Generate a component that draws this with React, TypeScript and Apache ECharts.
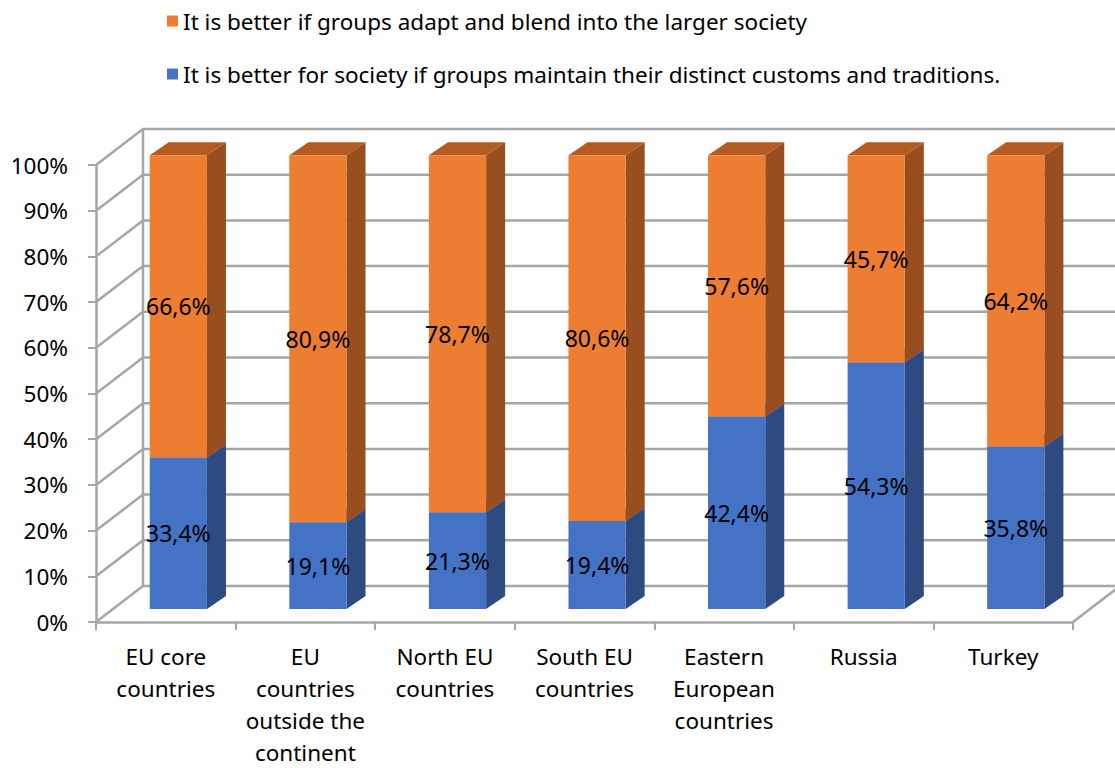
import React, { useEffect, useRef } from "react";
import * as echarts from "echarts";

const categories = [
  "EU core\ncountries",
  "EU\ncountries\noutside the\ncontinent",
  "North EU\ncountries",
  "South EU\ncountries",
  "Eastern\nEuropean\ncountries",
  "Russia",
  "Turkey",
];
const maintainValues = [33.4, 19.1, 21.3, 19.4, 42.4, 54.3, 35.8];
const adaptValues = [66.6, 80.9, 78.7, 80.6, 57.6, 45.7, 64.2];
const gridValues = [0, 10, 20, 30, 40, 50, 60, 70, 80, 90, 100];

const adaptName = "It is better if groups adapt and blend into the larger society";
const maintainName = "It is better for society if groups maintain their distinct customs and traditions.";

const FONT = "'Noto Sans', 'Open Sans', sans-serif";
const WALL_DX = 47;
const WALL_DY = -36;
const BAR_DX = 19;
const BAR_DY = -13;
const BAR_SCALE = 0.993;
const GRID_COLOR = "#a6a6a6";

const fmt = (v: number) => v.toFixed(1).replace(".", ",") + "%";

function makeBarRender(front: string, side: string, top: string) {
  return (params: any, api: any) => {
    const c = api.value(0);
    const base = api.value(1);
    const val = api.value(2);
    const p0 = api.coord([c, 0]);
    const pB = api.coord([c, base]);
    const pT = api.coord([c, base + val]);
    const cw = api.size([1, 0])[0];
    const left = pB[0] - 0.115 * cw;
    const right = left + 0.41 * cw;
    const y0 = p0[1] + BAR_DY;
    const yB = y0 - (p0[1] - pB[1]) * BAR_SCALE;
    const yT = y0 - (p0[1] - pT[1]) * BAR_SCALE;
    return {
      type: "group",
      children: [
        {
          type: "polygon",
          shape: {
            points: [
              [right, yT],
              [right + BAR_DX, yT + BAR_DY],
              [right + BAR_DX, yB + BAR_DY],
              [right, yB],
            ],
          },
          style: { fill: side },
        },
        {
          type: "polygon",
          shape: {
            points: [
              [left, yT],
              [left + BAR_DX, yT + BAR_DY],
              [right + BAR_DX, yT + BAR_DY],
              [right, yT],
            ],
          },
          style: { fill: top },
        },
        {
          type: "rect",
          shape: { x: left, y: yT, width: right - left, height: yB - yT },
          style: { fill: front },
        },
        {
          type: "text",
          x: (left + right) / 2,
          y: (yT + yB) / 2,
          style: {
            text: fmt(val),
            fill: "#000",
            font: `23px ${FONT}`,
            align: "center",
            verticalAlign: "middle",
          },
        },
      ],
    };
  };
}

export default function App() {
  const ref = useRef<HTMLDivElement>(null);
  useEffect(() => {
    if (!ref.current) return;
    const chart = echarts.init(ref.current, null, { renderer: "svg" });
    const blueData = maintainValues.map((v, i) => [i, 0, v]);
    const orangeData = adaptValues.map((v, i) => [i, maintainValues[i], v]);
    chart.setOption({
      animation: false,
      backgroundColor: "#fff",
      textStyle: { fontFamily: FONT },
      legend: {
        orient: "vertical",
        left: 162,
        top: 4,
        itemWidth: 11,
        itemHeight: 11,
        itemGap: 29,
        icon: "rect",
        data: [adaptName, maintainName],
        textStyle: { fontSize: 22.5, color: "#000", lineHeight: 24, fontFamily: FONT },
      },
      grid: { left: 96, right: 42, top: 165, bottom: 143 },
      xAxis: {
        type: "category",
        data: categories,
        boundaryGap: true,
        axisLine: { show: true, lineStyle: { color: GRID_COLOR, width: 2.5 } },
        axisTick: { show: true, length: 8, lineStyle: { color: GRID_COLOR, width: 2 } },
        axisLabel: {
          interval: 0,
          fontSize: 22.5,
          lineHeight: 32,
          color: "#000",
          margin: 18,
          fontFamily: FONT,
        },
      },
      yAxis: {
        type: "value",
        min: 0,
        max: 100,
        interval: 10,
        splitLine: { show: false },
        axisLine: { show: true, lineStyle: { color: GRID_COLOR, width: 2.5 } },
        axisTick: { show: true, length: 8, lineStyle: { color: GRID_COLOR, width: 2 } },
        axisLabel: {
          formatter: "{value}%",
          fontSize: 22.5,
          color: "#000",
          margin: 28,
          fontFamily: FONT,
        },
      },
      series: [
        {
          type: "custom",
          name: "walls",
          silent: true,
          data: gridValues.map((v) => [0, v]),
          encode: { x: 0, y: 1 },
          z: 1,
          renderItem: (params: any, api: any) => {
            const v = api.value(1);
            const cs = params.coordSys;
            const y = api.coord([0, v])[1];
            const x0 = cs.x;
            const x1 = cs.x + cs.width;
            const children: any[] = [
              {
                type: "polyline",
                shape: {
                  points: [
                    [x0, y],
                    [x0 + WALL_DX, y + WALL_DY],
                    [x1 + WALL_DX + 10, y + WALL_DY],
                  ],
                },
                style: { stroke: GRID_COLOR, lineWidth: 2.5, fill: "none" },
              },
            ];
            if (v === 0) {
              const yTop = api.coord([0, 100])[1];
              children.push({
                type: "line",
                shape: { x1: x0 + WALL_DX, y1: y + WALL_DY, x2: x0 + WALL_DX, y2: yTop + WALL_DY },
                style: { stroke: GRID_COLOR, lineWidth: 2.5 },
              });
              children.push({
                type: "line",
                shape: { x1: x1, y1: y, x2: x1 + WALL_DX, y2: y + WALL_DY },
                style: { stroke: GRID_COLOR, lineWidth: 2.5 },
              });
            }
            return { type: "group", children };
          },
        },
        {
          type: "custom",
          name: maintainName,
          data: blueData,
          encode: { x: 0, y: 2 },
          itemStyle: { color: "#4472C4" },
          z: 2,
          renderItem: makeBarRender("#4472C4", "#2D4B80", "#3A62A8"),
        },
        {
          type: "custom",
          name: adaptName,
          data: orangeData,
          encode: { x: 0, y: 2 },
          itemStyle: { color: "#ED7D31" },
          z: 3,
          renderItem: makeBarRender("#ED7D31", "#984E1E", "#B55B22"),
        },
      ],
    });
    return () => chart.dispose();
  }, []);
  return (
    <div
      ref={ref}
      style={{ position: "fixed", left: 0, top: 0, width: 1115, height: 768, background: "#fff" }}
    />
  );
}
